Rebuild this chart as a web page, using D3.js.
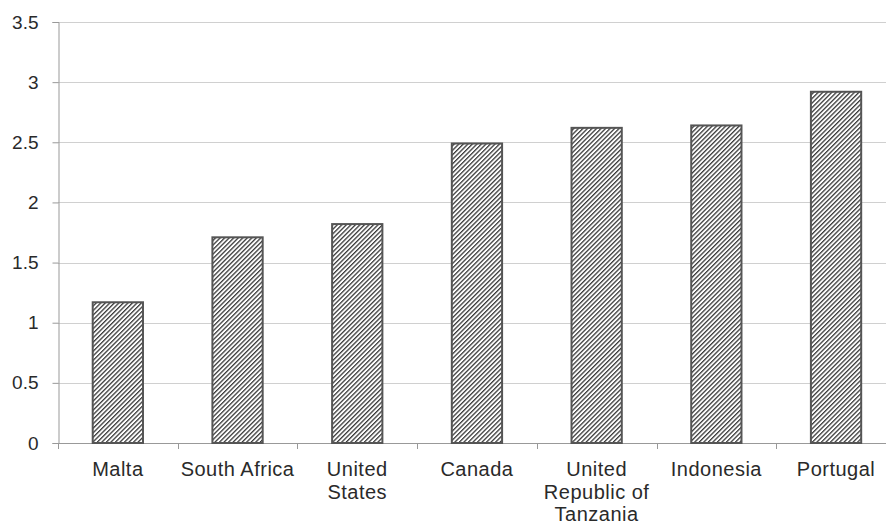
<!DOCTYPE html>
<html>
<head>
<meta charset="utf-8">
<script src="https://cdn.jsdelivr.net/npm/d3@7"></script>
<style>
  body { margin: 0; background: #fff; }
  text { font-family: "Liberation Sans", Arial, sans-serif; }
</style>
</head>
<body>
<script>
// Countries along the x axis
var countries = ['Malta', 'South Africa', 'United States', 'Canada',
  'United Republic of Tanzania', 'Indonesia', 'Portugal'];
// How the long labels break into lines
var labelLines = [['Malta'], ['South Africa'], ['United', 'States'], ['Canada'],
  ['United', 'Republic of', 'Tanzania'], ['Indonesia'], ['Portugal']];
// Bar values
var values = [1.17, 1.71, 1.82, 2.49, 2.62, 2.64, 2.92];
// Y ticks
var yTicks = [0, 0.5, 1, 1.5, 2, 2.5, 3, 3.5];

var width = 886, height = 526;
var plotLeft = 58, plotTop = 22, plotBottom = 443, plotRight = 58 + 7 * 119.7;

var svg = d3.select('body').append('svg')
  .attr('width', width)
  .attr('height', height);

// Hatch pattern for the bars
var pat = svg.append('defs').append('pattern')
  .attr('id', 'hatch')
  .attr('patternUnits', 'userSpaceOnUse')
  .attr('width', 3.2)
  .attr('height', 3.2)
  .attr('patternTransform', 'rotate(45)');
pat.append('rect').attr('width', 3.2).attr('height', 3.2).attr('fill', '#fff');
pat.append('line')
  .attr('x1', 0).attr('y1', 0).attr('x2', 0).attr('y2', 3.2)
  .attr('stroke', '#3a3a3a').attr('stroke-width', 2.6);

var x = d3.scaleBand()
  .domain(countries)
  .range([plotLeft, plotRight])
  .paddingInner(0.58)
  .paddingOuter(0.29);

var y = d3.scaleLinear()
  .domain([0, 3.5])
  .range([plotBottom, plotTop]);

// Gridlines
svg.append('g').selectAll('line')
  .data(yTicks.filter(function(t) { return t > 0; }))
  .enter().append('line')
  .attr('x1', plotLeft).attr('x2', width)
  .attr('y1', function(d) { return Math.round(y(d)) + 0.5; })
  .attr('y2', function(d) { return Math.round(y(d)) + 0.5; })
  .attr('stroke', '#d0d0d0')
  .attr('stroke-width', 1);

// Y axis
var yAxis = svg.append('g')
  .attr('transform', 'translate(' + (plotLeft + 0.5) + ',0)')
  .call(d3.axisLeft(y).tickValues(yTicks).tickSize(6).tickPadding(14)
    .tickFormat(function(d) { return String(d); }));
yAxis.selectAll('path, line').attr('stroke', '#999');
yAxis.selectAll('text')
  .attr('font-size', 19)
  .attr('fill', '#2a2a2a')
  .style('font-family', '"Liberation Sans", Arial, sans-serif');

// X axis baseline and band ticks
var bandEdges = d3.range(0, countries.length + 1).map(function(i) {
  return plotLeft + i * x.step();
});
svg.append('line')
  .attr('x1', plotLeft).attr('x2', width)
  .attr('y1', plotBottom + 0.5).attr('y2', plotBottom + 0.5)
  .attr('stroke', '#999');
svg.append('g').selectAll('line')
  .data(bandEdges)
  .enter().append('line')
  .attr('x1', function(d) { return Math.round(d) + 0.5; })
  .attr('x2', function(d) { return Math.round(d) + 0.5; })
  .attr('y1', plotBottom)
  .attr('y2', plotBottom + 6)
  .attr('stroke', '#999');

// Bars
svg.append('g').selectAll('rect')
  .data(values)
  .enter().append('rect')
  .attr('x', function(d, i) { return x(countries[i]); })
  .attr('y', function(d) { return y(d); })
  .attr('width', x.bandwidth())
  .attr('height', function(d) { return plotBottom - y(d); })
  .attr('fill', 'url(#hatch)')
  .attr('stroke', '#555')
  .attr('stroke-width', 2);

// Category labels
var labels = svg.append('g').selectAll('text')
  .data(labelLines)
  .enter().append('text')
  .attr('text-anchor', 'middle')
  .attr('font-size', 20)
  .attr('letter-spacing', 0.5)
  .attr('fill', '#2a2a2a')
  .attr('transform', function(d, i) {
    return 'translate(' + (x(countries[i]) + x.bandwidth() / 2) + ',' + (plotBottom + 33) + ')';
  });
labels.selectAll('tspan')
  .data(function(d) { return d; })
  .enter().append('tspan')
  .attr('x', 0)
  .attr('dy', function(d, i) { return i === 0 ? 0 : 22.5; })
  .text(function(d) { return d; });
</script>
</body>
</html>
